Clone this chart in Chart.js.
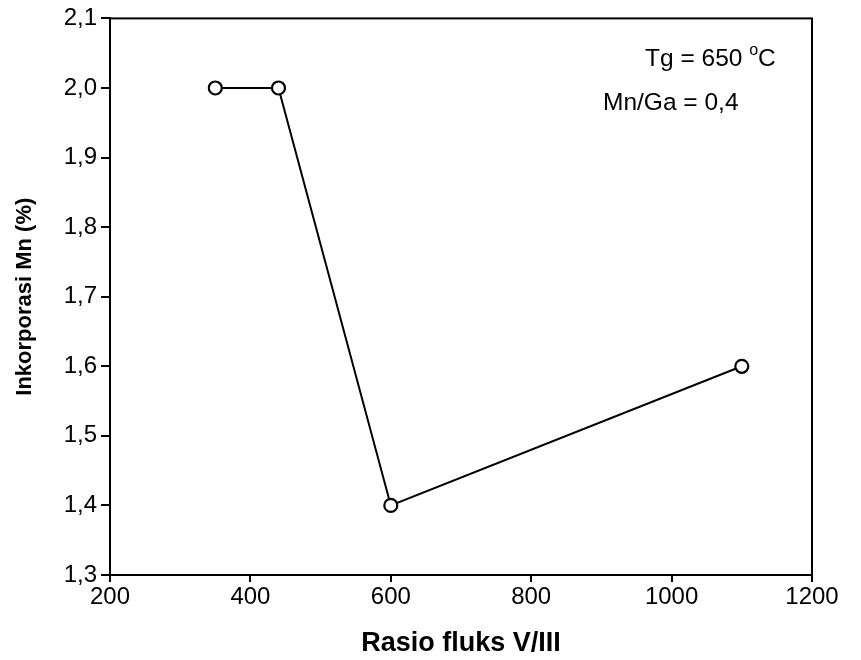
<!DOCTYPE html>
<html>
<head>
<meta charset="utf-8">
<script src="https://cdn.jsdelivr.net/npm/chart.js@4/dist/chart.umd.min.js"></script>
<style>
  html, body { margin: 0; padding: 0; background: #fff; }
  #wrap { width: 861px; height: 660px; }
</style>
</head>
<body>
<div id="wrap"><canvas id="myChart" width="861" height="660"></canvas></div>
<script>
// flux ratio V/III vs Mn incorporation
const fluxRatio = [350, 440, 600, 1100];
const mnIncorp = [2.0, 2.0, 1.4, 1.6];
const xTicks = [200, 400, 600, 800, 1000, 1200];
const yTicks = [1.3, 1.4, 1.5, 1.6, 1.7, 1.8, 1.9, 2.0, 2.1];
const notes = ['Tg = 650 ', 'Mn/Ga = 0,4'];

const FONT = 'Arial, "Liberation Sans", sans-serif';

// closes the box on top and right, writes the growth conditions
const frameAndNotes = {
  id: 'frameAndNotes',
  afterDraw(chart) {
    const { ctx, chartArea: a } = chart;
    ctx.save();
    ctx.strokeStyle = '#000';
    ctx.lineWidth = 2;
    ctx.strokeRect(a.left, a.top, a.right - a.left, a.bottom - a.top);

    ctx.fillStyle = '#000';
    ctx.textBaseline = 'alphabetic';
    ctx.font = '24.5px ' + FONT;
    let x = 645, y = 66;
    ctx.fillText(notes[0], x, y);
    x += ctx.measureText(notes[0]).width;
    ctx.font = '16px ' + FONT;
    ctx.fillText('o', x, y - 11);
    x += ctx.measureText('o').width;
    ctx.font = '24.5px ' + FONT;
    ctx.fillText('C', x, y);
    ctx.fillText(notes[1], 603, 110);
    ctx.restore();
  }
};

const ctx = document.getElementById('myChart').getContext('2d');
const myChart = new Chart(ctx, {
  type: 'line',
  data: {
    datasets: [{
      data: fluxRatio.map((v, i) => ({ x: v, y: mnIncorp[i] })),
      borderColor: '#000',
      borderWidth: 2,
      pointRadius: 6.5,
      pointBorderWidth: 2.2,
      pointBackgroundColor: '#fff',
      pointBorderColor: '#000',
      tension: 0
    }]
  },
  options: {
    responsive: false,
    animation: false,
    layout: { padding: { top: 13, right: 49, left: 0, bottom: 0 } },
    plugins: { legend: { display: false }, tooltip: { enabled: false } },
    scales: {
      x: {
        type: 'linear',
        min: 200, max: 1200,
        afterBuildTicks: s => { s.ticks = xTicks.map(v => ({ value: v })); },
        afterFit: s => { s.height = 85; },
        border: { color: '#000', width: 2 },
        grid: { drawOnChartArea: false, color: '#000', lineWidth: 2, tickLength: 7 },
        ticks: {
          color: '#000', font: { family: FONT, size: 24 }, padding: 1, maxRotation: 0,
          callback: v => String(v)
        },
        title: {
          display: true, text: 'Rasio fluks V/III', color: '#000',
          font: { family: FONT, size: 27, weight: 'bold' }, padding: { top: 6, bottom: 0 }
        }
      },
      y: {
        min: 1.3, max: 2.1,
        afterBuildTicks: s => { s.ticks = yTicks.map(v => ({ value: v })); },
        afterFit: s => { s.width = 110; },
        border: { color: '#000', width: 2 },
        grid: { drawOnChartArea: false, color: '#000', lineWidth: 2, tickLength: 9 },
        ticks: {
          color: '#000', font: { family: FONT, size: 24 }, padding: 4,
          callback: v => v.toFixed(1).replace('.', ',')
        },
        title: {
          display: true, text: 'Inkorporasi Mn (%)', color: '#000',
          font: { family: FONT, size: 22, weight: 'bold' }, padding: { top: 12, bottom: 0 }
        }
      }
    }
  },
  plugins: [frameAndNotes]
});
</script>
</body>
</html>
